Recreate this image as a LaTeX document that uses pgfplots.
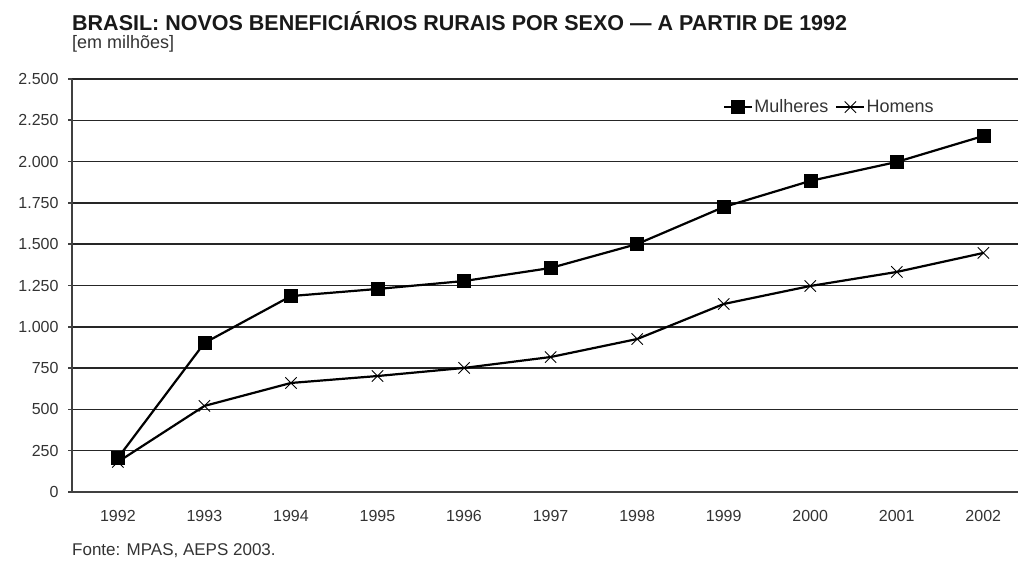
\documentclass[border=0pt]{standalone}
\usepackage{pgfplots}
\pgfplotsset{compat=1.18}
\usepackage{fontspec}
\setmainfont{Liberation Sans}
\definecolor{txt}{HTML}{333333}
\definecolor{ax}{HTML}{404040}
\begin{document}
\begin{tikzpicture}[x=1pt,y=1pt]
\useasboundingbox (0,0) rectangle (1018,564);
\node[anchor=base west, font=\fontsize{21.5}{24}\selectfont\bfseries, text=black!90, inner sep=0pt] at (72,533) {BRASIL: NOVOS BENEFICIÁRIOS RURAIS POR SEXO — A PARTIR DE 1992};
\node[anchor=base west, font=\fontsize{18}{21}\selectfont, text=txt, inner sep=0pt] at (72,515) {[em milhões]};
\node[anchor=base west, font=\fontsize{17}{20}\selectfont, text=txt, inner sep=0pt] at (72,8) {Fonte: MPAS, AEPS 2003.};
\begin{axis}[
  at={(72pt,72pt)}, anchor=south west,
  scale only axis, width=946pt, height=413pt,
  xmin=1991.47, xmax=2002.4, ymin=0, ymax=2500,
  axis x line*=bottom, axis y line*=left,
  axis line style={ax, line width=1.6pt},
  xtick={1992,...,2002},
  x tick style={draw=none},
  extra x ticks={1992.5,1993.5,1994.5,1995.5,1996.5,1997.5,1998.5,1999.5,2000.5,2001.5},
  extra x tick labels={},
  extra x tick style={tick style={draw=ax, line width=1.6pt}, major tick length=3pt, tick align=outside},
  ytick={0,250,...,2500},
  y tick style={draw=ax, line width=1.6pt},
  major tick length=4pt, tick align=outside,
  ymajorgrids,
  grid style={black!85, line width=1.5pt},
  scaled ticks=false,
  /pgf/number format/assume math mode=true,
  yticklabel style={/pgf/number format/1000 sep={.}, font=\fontsize{16}{18}\selectfont, text=txt, xshift=-6pt},
  xticklabel style={/pgf/number format/1000 sep={}, font=\fontsize{16}{18}\selectfont, text=txt, yshift=-11pt},
  legend style={at={(0.80,0.932)}, anchor=center, draw=none, fill=none, legend columns=2,
    font=\fontsize{18}{20}\selectfont, text=txt, /tikz/every even column/.append style={column sep=6pt},
    nodes={inner sep=1pt}},
  legend image code/.code={\draw[#1, mark repeat=2, mark phase=2] plot coordinates {(0pt,0pt) (14pt,0pt) (28pt,0pt)};},
  clip=false,
]
\addplot[black, line width=2.2pt, mark=square*, mark size=6.5pt, mark options={solid, line width=0.5pt}]
coordinates {(1992,206) (1993,902) (1994,1186) (1995,1229) (1996,1277) (1997,1356) (1998,1501) (1999,1725) (2000,1883) (2001,1998) (2002,2155)};
\addlegendentry{Mulheres}
\addplot[black, line width=2.2pt, mark=x, mark size=8pt, mark options={solid, line width=0.9pt}]
coordinates {(1992,182) (1993,521) (1994,660) (1995,702) (1996,751) (1997,817) (1998,926) (1999,1138) (2000,1247) (2001,1332) (2002,1447)};
\addlegendentry{Homens}
\end{axis}
\end{tikzpicture}
\end{document}
